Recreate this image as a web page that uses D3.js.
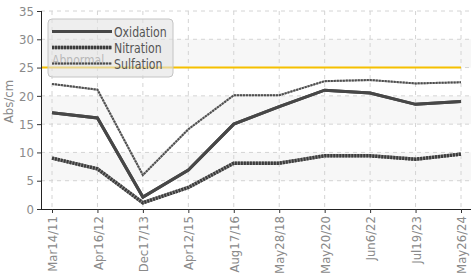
<!DOCTYPE html>
<html>
<head>
<meta charset="utf-8">
<script src="https://cdn.jsdelivr.net/npm/d3@7"></script>
<style>
  body { margin: 0; background: #fff; }
  svg text { font-family: "DejaVu Sans", sans-serif; font-stretch: condensed; }
</style>
</head>
<body>
<script>
// samples
var dates = ["Mar14/11", "Apr16/12", "Dec17/13", "Apr12/15", "Aug17/16", "May28/18", "May20/20", "Jun6/22", "Jul19/23", "May26/24"];
var oxidation = [17, 16.1, 2.1, 6.9, 15, 18.1, 21, 20.5, 18.5, 19];
var nitration = [9, 7.1, 1.1, 3.8, 8.1, 8.1, 9.4, 9.4, 8.8, 9.7];
var sulfation = [22.1, 21.1, 6, 14.1, 20.1, 20.1, 22.6, 22.8, 22.2, 22.4];
var yTicks = [0, 5, 10, 15, 20, 25, 30, 35];
var abnormal = 25;

var width = 471, height = 277;
var plotLeft = 41, plotTop = 11, plotBottom = 209;

var svg = d3.select("body").append("svg")
    .attr("width", width)
    .attr("height", height);

var x = d3.scalePoint().domain(dates).range([52, 461]);
var y = d3.scaleLinear().domain([0, 35]).range([plotBottom, plotTop]);

// alternating bands
svg.append("g")
    .selectAll("rect")
    .data([5, 15, 25])
    .enter().append("rect")
    .attr("x", plotLeft)
    .attr("width", width - plotLeft)
    .attr("y", function(d) { return y(d + 5); })
    .attr("height", function(d) { return y(d) - y(d + 5); })
    .style("fill", "#f7f7f7");

// grid
svg.append("g")
    .selectAll("line")
    .data(yTicks.slice(1))
    .enter().append("line")
    .attr("x1", plotLeft).attr("x2", width)
    .attr("y1", function(d) { return y(d); })
    .attr("y2", function(d) { return y(d); })
    .style("stroke", "#d4d4d4")
    .style("stroke-dasharray", "4,4");

svg.append("g")
    .selectAll("line")
    .data(dates)
    .enter().append("line")
    .attr("x1", function(d) { return x(d); })
    .attr("x2", function(d) { return x(d); })
    .attr("y1", plotTop).attr("y2", plotBottom)
    .style("stroke", "#d4d4d4")
    .style("stroke-dasharray", "4,4");

// abnormal limit
svg.append("line")
    .attr("x1", plotLeft).attr("x2", 461)
    .attr("y1", y(abnormal)).attr("y2", y(abnormal))
    .style("stroke", "#f5c000")
    .style("stroke-width", 2);

// series: base stroke under a dashed top stroke
var series = [
  {name: "Oxidation", values: oxidation, color: "#474747", base: "#474747", w: 3, dash: null},
  {name: "Nitration", values: nitration, color: "#3c3c3c", base: "#8c8c8c", w: 3.5, dash: "2,1"},
  {name: "Sulfation", values: sulfation, color: "#4e4e4e", base: "#a8a8a8", w: 2, dash: "2,1"}
];

var line = d3.line()
    .x(function(d, i) { return x(dates[i]); })
    .y(function(d) { return y(d); });

var lines = svg.append("g")
    .selectAll("g")
    .data(series)
    .enter().append("g");

lines.append("path")
    .attr("d", function(d) { return line(d.values); })
    .style("fill", "none")
    .style("stroke", function(d) { return d.base; })
    .style("stroke-width", function(d) { return d.w; });

lines.append("path")
    .attr("d", function(d) { return line(d.values); })
    .style("fill", "none")
    .style("stroke", function(d) { return d.color; })
    .style("stroke-width", function(d) { return d.w; })
    .style("stroke-dasharray", function(d) { return d.dash; });

// axes
var yAxis = svg.append("g")
    .attr("transform", "translate(" + plotLeft + ",0)")
    .call(d3.axisLeft(y).tickValues(yTicks).tickSize(4).tickPadding(3));

var xAxis = svg.append("g")
    .attr("transform", "translate(0," + plotBottom + ")")
    .call(d3.axisBottom(x).tickSize(4).tickSizeOuter(0));

xAxis.selectAll("text")
    .attr("transform", "rotate(-90)")
    .attr("x", -7)
    .attr("y", 0)
    .attr("dy", "0.35em")
    .style("text-anchor", "end");

svg.selectAll(".tick text")
    .style("font-size", "13px")
    .style("fill", "#8a8a8a");
svg.selectAll(".tick line").style("stroke", "#333");
yAxis.select(".domain").style("stroke", "#222").attr("d", "M0.5," + plotTop + "V" + plotBottom);
xAxis.select(".domain").style("stroke", "#222").attr("d", "M" + plotLeft + ",0.5H" + width);

svg.append("text")
    .attr("transform", "translate(13," + y(19) + ") rotate(-90)")
    .style("text-anchor", "middle")
    .style("font-size", "13px")
    .style("fill", "#8a8a8a")
    .text("Abs/cm");

// legend
var legend = svg.append("g").attr("class", "legend");
legend.append("rect")
    .attr("x", 48).attr("y", 19)
    .attr("width", 125).attr("height", 58)
    .attr("rx", 4)
    .style("fill", "#e2e2e2")
    .style("fill-opacity", 0.6)
    .style("stroke", "#c4c4c4");

// "Abnormal" label sits inside the legend box, under the swatches
legend.append("text")
    .attr("transform", "translate(52," + (y(abnormal) - 3) + ") scale(0.86,1)")
    .style("font-size", "14px")
    .style("fill", "#b8b8b8")
    .text("Abnormal");

var items = legend.selectAll("g.item")
    .data(series)
    .enter().append("g")
    .attr("class", "item")
    .attr("transform", function(d, i) { return "translate(0," + (31.5 + i * 16) + ")"; });

items.append("line")
    .attr("x1", 52).attr("x2", 112)
    .style("stroke", function(d) { return d.base; })
    .style("stroke-width", function(d) { return d.w; });

items.append("line")
    .attr("x1", 52).attr("x2", 112)
    .style("stroke", function(d) { return d.color; })
    .style("stroke-width", function(d) { return d.w; })
    .style("stroke-dasharray", function(d) { return d.dash; });

items.append("text")
    .attr("transform", "translate(114,0) scale(0.84,1)")
    .attr("dy", "0.35em")
    .style("font-size", "14.5px")
    .style("fill", "#555")
    .text(function(d) { return d.name; });
</script>
</body>
</html>
